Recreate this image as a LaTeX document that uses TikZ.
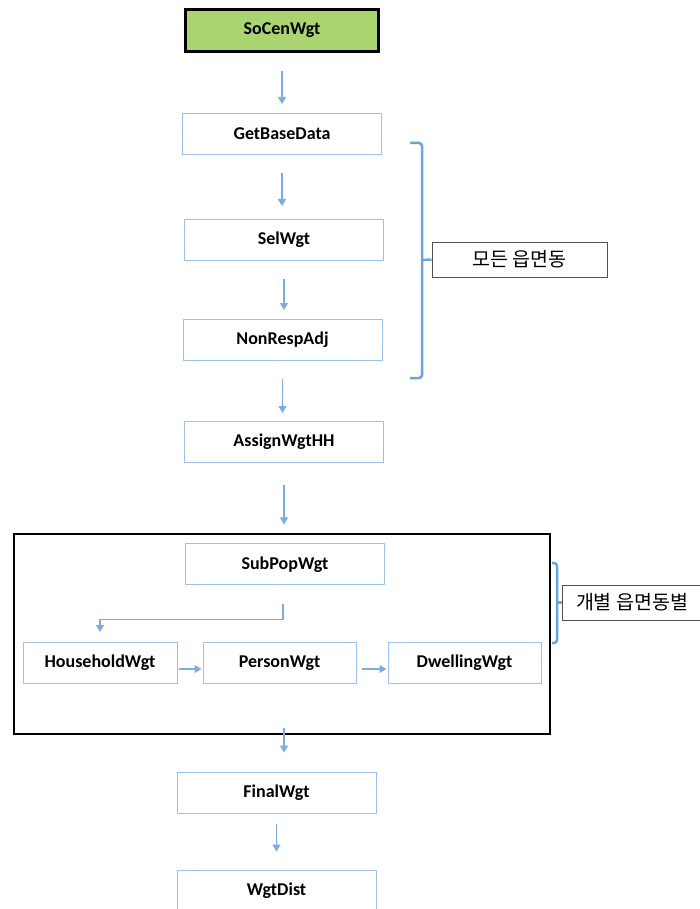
\documentclass[tikz,border=0pt]{standalone}
\usepackage{fontspec}
\usetikzlibrary{arrows.meta,positioning}
\setmainfont{Carlito}
\newfontfamily\krfont{Noto Sans CJK KR}
\definecolor{leaf}{HTML}{A9D46F}
\definecolor{sky}{HTML}{9CC2E5}
\definecolor{flowblue}{HTML}{7AAEDD}
\definecolor{bracewire}{HTML}{67A5DD}
\definecolor{slate}{HTML}{505050}
\tikzset{stepbox/.style={draw=sky,fill=white,line width=1pt,minimum width=199pt,
  minimum height=41pt,inner sep=0pt,font=\fontsize{18}{20}\selectfont\bfseries},
  rowbox/.style={stepbox,minimum width=154pt},
  topbox/.style={stepbox,draw=black,fill=leaf,line width=3pt,minimum width=193pt,minimum height=42pt},
  tagbox/.style={draw=slate,fill=white,line width=1pt,minimum height=35pt,inner sep=0pt,
  font=\fontsize{19.5}{21}\selectfont\krfont},
  frame/.style={draw=black,line width=1.2pt,minimum width=536pt,minimum height=200pt},
  flow/.style={-{Triangle[length=7pt,width=8pt]},line width=1.2pt,draw=flowblue,
  shorten <=18pt,shorten >=9pt},
  brace/.style={draw=bracewire,line width=2.5pt,rounded corners=3pt}}

\begin{document}
\begin{tikzpicture}[x=1pt,y=-1pt]
\useasboundingbox (0,0) rectangle (699,909);
\node[topbox] (socen) at (282,30.5) {SoCenWgt};
\node[stepbox,below=60pt of socen] (base) {GetBaseData};
\node[stepbox,below=64pt of base,xshift=2pt] (sel) {SelWgt};
\node[stepbox,below=58pt of sel,xshift=-1.5pt] (nonresp) {NonRespAdj};
\node[stepbox,below=60pt of nonresp,xshift=1.5pt] (assign) {AssignWgtHH};
\node[frame] (group) at (282,634) {};
\node[stepbox,below=10pt of group.north,xshift=3pt] (subpop) {SubPopWgt};
\node[rowbox] (household) at (100,663) {HouseholdWgt};
\node[rowbox,minimum width=153pt,right=25pt of household] (person) {PersonWgt};
\node[rowbox,minimum width=153pt,right=31pt of person] (dwelling) {DwellingWgt};
\node[stepbox,below=37pt of group,xshift=-5.5pt] (final) {FinalWgt};
\node[stepbox,below=56pt of final] (wgtdist) {WgtDist};
\node[tagbox,minimum width=175pt] (alltag) at (519.5,259.5) {모든 읍면동};
\node[tagbox,minimum width=140pt] (eachtag) at (632,602.5) {개별 읍면동별};
\draw[flow] (socen.south) -- (socen.south |- base.north);
\draw[flow,shorten >=13pt] (base.south) -- (base.south |- sel.north);
\draw[flow] (sel.south) -- (sel.south |- nonresp.north);
\draw[flow,shorten >=8pt] (nonresp.south) -- (nonresp.south |- assign.north);
\draw[flow,shorten <=22pt] (assign.south) -- (assign.south |- group.north);
\draw[flow,shorten <=19pt,shorten >=10pt] ([xshift=-2pt]subpop.south) -- ++(0pt,-34pt) -| (household.north);
\draw[flow,shorten <=1pt,shorten >=1pt] ([yshift=-6pt]household.east) -- ([yshift=-6pt]person.west);
\draw[flow,shorten <=5pt,shorten >=1pt] ([yshift=-6pt]person.east) -- ([yshift=-6pt]dwelling.west);
\draw[flow,shorten <=-7pt,shorten >=19pt] ([xshift=2pt]group.south) -- ([xshift=2pt]group.south |- final.north);
\draw[flow,shorten <=10pt,shorten >=18pt] (final.south) -- (final.south |- wgtdist.north);
\draw[brace] (410,143) -- (422,143) -- (422,378) -- (410,378);
\draw[brace] (422,260) -- (alltag.west);
\draw[brace] (552,563) -- (557,563) -- (557,643) -- (552,643);
\draw[brace] (557,602.5) -- (eachtag.west);
\end{tikzpicture}
\end{document}
